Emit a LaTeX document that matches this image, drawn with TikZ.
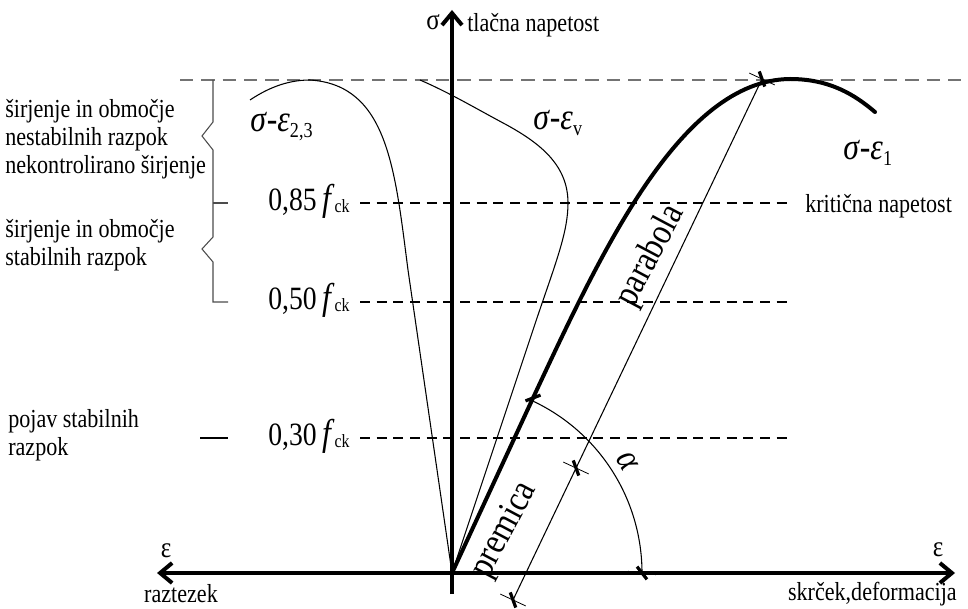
\documentclass[tikz,border=0pt]{standalone}
\usepackage{fontspec}
\setmainfont{Liberation Serif}[FakeStretch=0.85]
\usetikzlibrary{arrows.meta}
\begin{document}
\begin{tikzpicture}[x=0.75pt,y=-0.75pt,
  txt/.style={inner sep=0pt, font=\fontsize{19.5}{21}\selectfont},
  axlbl/.style={inner sep=0pt, font=\fontsize{22}{22}\selectfont},
  crv/.style={inner sep=0pt, font=\fontsize{28}{28}\selectfont},
  rot/.style={inner sep=0pt, font=\fontsize{28}{28}\selectfont},
  fck/.style={inner sep=0pt},
  thinline/.style={line width=0.8pt},
  heavy/.style={line width=3pt, line cap=round},
  dashblack/.style={line width=0.8pt, dash pattern=on 7.5pt off 5pt},
  dashgray/.style={line width=0.8pt, black!55, dash pattern=on 10pt off 6pt},
  brk/.style={line width=0.8pt, black!70},
  axisline/.style={line width=3pt},
  tip/.tip={Straight Barb[length=9pt,width=15pt]},
  tickmark/.pic={
    \draw[line width=0.6pt] (-14,0) -- (14,0);
    \draw[line width=2.4pt] (-5.7,-5.7) -- (5.7,5.7);
  }
]
\useasboundingbox (0,0) rectangle (968,609);

% coordinates
\coordinate (O) at (452,573);
\coordinate (L) at (157,573);
\coordinate (R) at (955,573);
\coordinate (T) at (452,10);
\coordinate (B) at (452,594);
\coordinate (A0) at (642,573);
\coordinate (P1) at (533,398);
\coordinate (Dbot) at (513,600);
\coordinate (Dmid) at (576,468);
\coordinate (Dtop) at (762,79);

% dashed levels
\draw[dashgray] (180,80) -- (965,80);
\draw[dashblack] (360,203) -- (790,203);
\draw[dashblack] (360,302) -- (790,302);
\draw[dashblack] (360,438) -- (790,438);

% bracket
\draw[brk] (213,80) -- (213,122) -- (202,136) -- (213,150) -- (213,237) -- (202,249) -- (213,262) -- (213,302) -- (228,302);
\draw[brk] (213,203) -- (228,203);
\draw[line width=0.8pt] (200,438) -- (228,438);

% thin curves
\draw[thinline] (O) -- (408,270) .. controls (395,170) and (388,85) .. (310,80) .. controls (285,80) and (265,90) .. (250,100);
\draw[thinline] (O) -- (537,318) .. controls (556,262) and (568,232) .. (568,203) .. controls (568,165) and (540,143) .. (505,124) .. controls (475,108) and (450,93) .. (420,80);

% dimension line and arc
\draw[thinline] (Dbot) -- (Dtop);
\draw[thinline] (A0) arc[start angle=0, end angle=-65, radius=190];

% axes
\draw[axisline, tip-tip] (L) -- (R);
\draw[axisline, -tip] (B) -- (T);

% main curve
\draw[heavy] (O) -- (P1) .. controls (600,255) and (680,80) .. (790,79) .. controls (830,79) and (855,95) .. (875,112);

% tick marks
\pic[rotate=-25] at (Dbot) {tickmark};
\pic[rotate=-25] at (Dmid) {tickmark};
\pic[rotate=-25] at (Dtop) {tickmark};
\pic[rotate=66] at (P1) {tickmark};
\pic[rotate=-7] at (A0) {tickmark};

% axis labels
\node[axlbl] (sig) at (433,22) {σ};
\node[txt, anchor=west] (tlak) at (467,25) {tlačna napetost};
\node[axlbl] (epsL) at (166,551) {ε};
\node[axlbl] (epsR) at (938,550) {ε};
\node[txt] (razt) at (181,594) {raztezek};
\node[txt, anchor=east] (skr) at (957,594) {skrček,deformacija};

% left labels
\node[txt, anchor=west, align=left] (g1) at (5,139) {širjenje in območje\\nestabilnih razpok\\nekontrolirano širjenje};
\node[txt, anchor=west, align=left] (g2) at (5,245) {širjenje in območje\\stabilnih razpok};
\node[txt, anchor=west, align=left] (g3) at (8,435) {pojav stabilnih\\razpok};
\node[txt, anchor=west] (krit) at (805,206) {kritična napetost};

% level labels
\node[fck, anchor=base west] (f85) at (268,211) {\fontsize{24.4}{24}\selectfont 0,85\,\fontsize{28}{28}\selectfont\textit{f}\fontsize{14}{14}\selectfont\raisebox{-1pt}{ck}};
\node[fck, anchor=base west] (f50) at (268,310) {\fontsize{24.4}{24}\selectfont 0,50\,\fontsize{28}{28}\selectfont\textit{f}\fontsize{14}{14}\selectfont\raisebox{-1pt}{ck}};
\node[fck, anchor=base west] (f30) at (268,446) {\fontsize{24.4}{24}\selectfont 0,30\,\fontsize{28}{28}\selectfont\textit{f}\fontsize{14}{14}\selectfont\raisebox{-1pt}{ck}};

% curve labels
\node[crv, anchor=base west] (c23) at (250,132) {\textit{σ}-\textit{ε}\raisebox{-4pt}{\fontsize{16}{16}\selectfont 2,3}};
\node[crv, anchor=base west] (cv) at (533,130) {\textit{σ}-\textit{ε}\raisebox{-4pt}{\fontsize{16}{16}\selectfont v}};
\node[crv, anchor=base west] (c1) at (843,160) {\textit{σ}-\textit{ε}\raisebox{-4pt}{\fontsize{16}{16}\selectfont 1}};

% rotated labels
\node[rot, rotate=62] (par) at (651,256) {parabola};
\node[rot, rotate=62] (prem) at (505,530) {premica};
\node[rot, rotate=-60] (alf) at (627,462) {\textit{α}};
\end{tikzpicture}
\end{document}
